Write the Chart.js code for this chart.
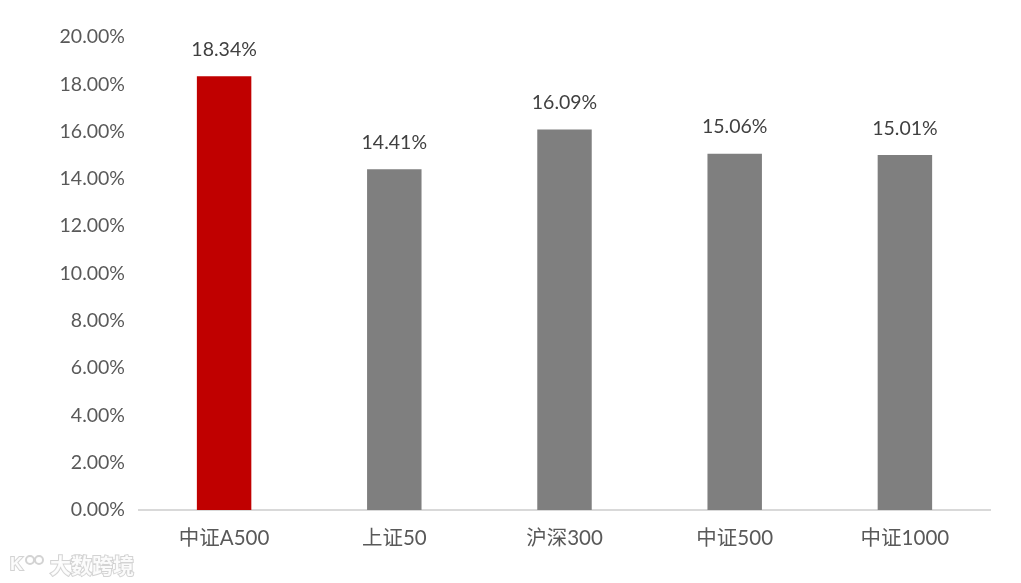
<!DOCTYPE html>
<html>
<head>
<meta charset="utf-8">
<script src="https://cdn.jsdelivr.net/npm/chart.js@4"></script>
<style>
  html, body { margin: 0; padding: 0; background: #fff; }
  #wrap { width: 1021px; height: 583px; }
</style>
</head>
<body>
<div id="wrap"><canvas id="barChart" width="1021" height="583"></canvas></div>
<script>
const categories = ['中证A500', '上证50', '沪深300', '中证500', '中证1000'];
const returns = [18.34, 14.41, 16.09, 15.06, 15.01];
const barColors = ['#c00000', '#7f7f7f', '#7f7f7f', '#7f7f7f', '#7f7f7f'];

const fontFamily = 'Lato, "Noto Sans CJK SC", sans-serif';

// value labels above each bar
const valueLabels = {
    id: 'valueLabels',
    afterDatasetsDraw(chart) {
        const ctx = chart.ctx;
        const meta = chart.getDatasetMeta(0);
        ctx.save();
        ctx.font = '19.5px ' + fontFamily;
        ctx.fillStyle = '#404040';
        ctx.textAlign = 'center';
        ctx.textBaseline = 'bottom';
        meta.data.forEach((bar, i) => {
            ctx.fillText(returns[i].toFixed(2) + '%', bar.x, bar.y - 17);
        });
        ctx.restore();
    }
};

// faint watermark in the corner
const watermark = {
    id: 'watermark',
    afterDraw(chart) {
        const ctx = chart.ctx;
        ctx.save();
        ctx.font = 'bold 21px "Noto Sans CJK SC", sans-serif';
        ctx.textBaseline = 'middle';
        ctx.lineWidth = 2;
        ctx.strokeStyle = 'rgba(200,200,200,0.8)';
        ctx.fillStyle = 'rgba(255,255,255,0.9)';
        ctx.strokeText('大数跨境', 50, 565);
        ctx.fillText('大数跨境', 50, 565);
        ctx.font = 'bold 18px sans-serif';
        ctx.strokeText('K', 10, 565);
        ctx.fillText('K', 10, 565);
        ctx.beginPath();
        ctx.arc(30, 560, 4, 0, Math.PI * 2);
        ctx.moveTo(43, 560);
        ctx.arc(39, 560, 4, 0, Math.PI * 2);
        ctx.stroke();
        ctx.restore();
    }
};

const ctx = document.getElementById('barChart').getContext('2d');
new Chart(ctx, {
    type: 'bar',
    data: {
        labels: categories,
        datasets: [{
            data: returns,
            backgroundColor: barColors,
            borderWidth: 0,
            barPercentage: 0.32,
            categoryPercentage: 1.0
        }]
    },
    options: {
        responsive: false,
        animation: false,
        layout: { padding: { top: 37, right: 31, left: 0, bottom: 0 } },
        plugins: {
            legend: { display: false },
            tooltip: { enabled: false }
        },
        scales: {
            x: {
                grid: { display: false, drawTicks: false },
                border: { color: '#d9d9d9', width: 2 },
                ticks: {
                    color: '#595959',
                    padding: 16,
                    font: { family: fontFamily, size: 20.5 }
                },
                afterFit(scale) { scale.height = 73; }
            },
            y: {
                min: 0,
                max: 20,
                grid: { display: false, drawTicks: false },
                border: { display: false },
                ticks: {
                    stepSize: 2,
                    color: '#595959',
                    padding: 14,
                    font: { family: fontFamily, size: 19.5 },
                    callback: v => v.toFixed(2) + '%'
                },
                afterFit(scale) { scale.width = 139; }
            }
        }
    },
    plugins: [valueLabels, watermark]
});
</script>
</body>
</html>
